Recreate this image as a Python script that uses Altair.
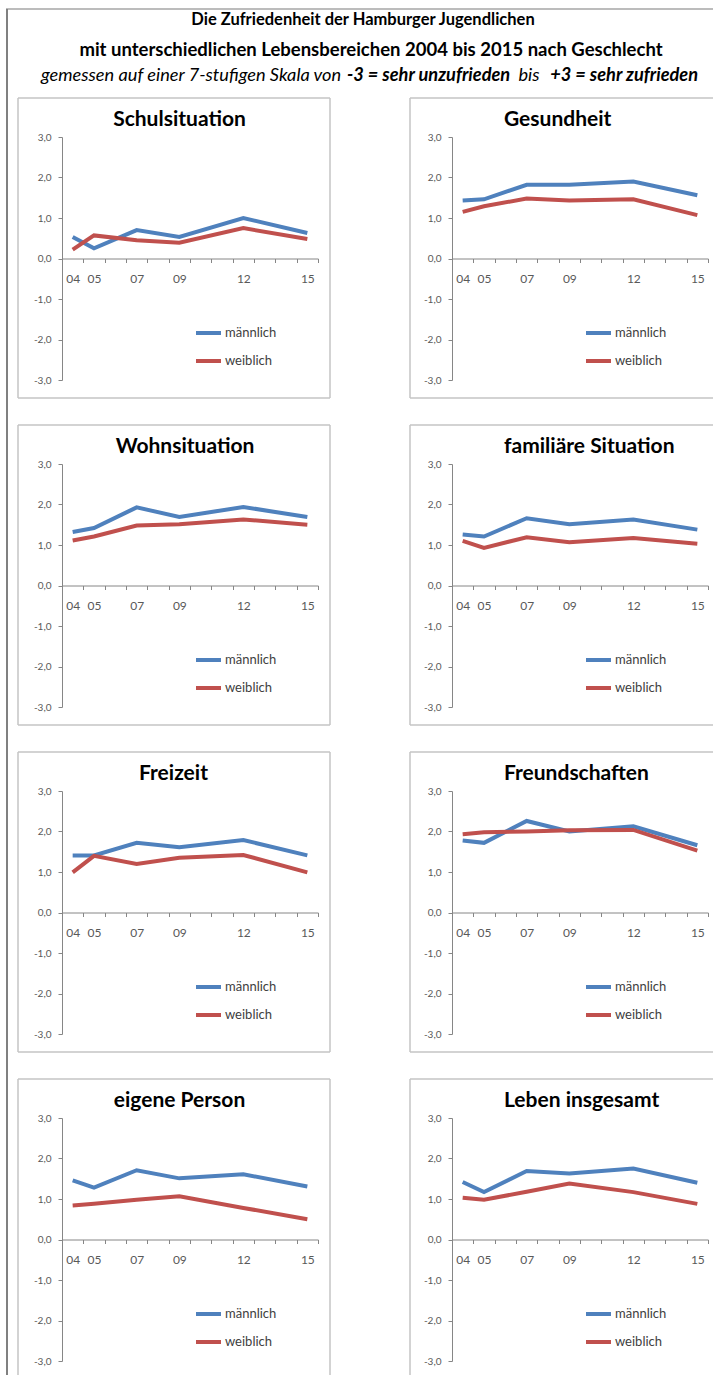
import altair as alt
import pandas as pd

# One band per year on the x axis; values exist only for the survey years
JAHRE = ["04", "05", "06", "07", "08", "09", "10", "11", "12", "13", "14", "15"]
ERHEBUNGSJAHRE = ["04", "05", "07", "09", "12", "15"]
GESCHLECHT = ["männlich", "weiblich"]
FARBEN = ["#4F81BD", "#C0504D"]
Y_TICKS = [-3, -2, -1, 0, 1, 2, 3]

# Mean satisfaction per survey year (scale -3 ... +3)
schule_m = [0.53, 0.25, 0.70, 0.53, 1.00, 0.63]
schule_w = [0.22, 0.57, 0.45, 0.39, 0.75, 0.48]
gesundheit_m = [1.43, 1.46, 1.82, 1.82, 1.90, 1.56]
gesundheit_w = [1.15, 1.29, 1.48, 1.43, 1.46, 1.07]
wohnen_m = [1.32, 1.42, 1.93, 1.69, 1.94, 1.69]
wohnen_w = [1.11, 1.21, 1.48, 1.51, 1.63, 1.50]
familie_m = [1.26, 1.21, 1.66, 1.51, 1.63, 1.38]
familie_w = [1.10, 0.93, 1.19, 1.07, 1.17, 1.03]
freizeit_m = [1.41, 1.41, 1.72, 1.61, 1.79, 1.41]
freizeit_w = [0.99, 1.40, 1.20, 1.35, 1.42, 0.99]
freunde_m = [1.78, 1.72, 2.26, 2.00, 2.13, 1.66]
freunde_w = [1.93, 1.98, 2.00, 2.03, 2.04, 1.53]
person_m = [1.46, 1.28, 1.71, 1.51, 1.61, 1.31]
person_w = [0.84, 0.88, 0.98, 1.07, 0.78, 0.50]
leben_m = [1.42, 1.17, 1.69, 1.63, 1.75, 1.40]
leben_w = [1.03, 0.98, 1.18, 1.38, 1.17, 0.88]

BEREICHE = [
    ("Schulsituation", schule_m, schule_w),
    ("Gesundheit", gesundheit_m, gesundheit_w),
    ("Wohnsituation", wohnen_m, wohnen_w),
    ("familiäre Situation", familie_m, familie_w),
    ("Freizeit", freizeit_m, freizeit_w),
    ("Freundschaften", freunde_m, freunde_w),
    ("eigene Person", person_m, person_w),
    ("Leben insgesamt", leben_m, leben_w),
]

# Layout of a single panel (plot area in px)
W, H = 256, 243
FONT = "Lato"
GRAU_ACHSE = "#868686"
GRAU_TEXT = "#595959"
RAHMEN = "#c4c4c4"
TITEL_X_LINKS = [117.5, 123, 111.5, 117.5]
TITEL_X_RECHTS = 52

EINS = pd.DataFrame({"k": [0]})


def strich(x1, x2, y1, y2, farbe=RAHMEN, breite=1.5):
    return alt.Chart(EINS).mark_rule(color=farbe, strokeWidth=breite).encode(
        x=alt.value(x1), x2=alt.value(x2), y=alt.value(y1), y2=alt.value(y2)
    )


def text(inhalt, x, y, size, weight="normal", style="normal", align="center"):
    return alt.Chart(EINS).mark_text(
        text=inhalt, font=FONT, fontSize=size, fontWeight=weight, fontStyle=style,
        align=align, baseline="middle", color="#000000",
    ).encode(x=alt.value(x), y=alt.value(y))


label_liste = ",".join("'%s'" % j for j in ERHEBUNGSJAHRE)


def panel(nr, titel, werte_m, werte_w):
    zeile, spalte = divmod(nr, 2)
    n = len(ERHEBUNGSJAHRE)
    df = pd.DataFrame({
        "Jahr": ERHEBUNGSJAHRE * 2,
        "Wert": werte_m + werte_w,
        "Geschlecht": [GESCHLECHT[0]] * n + [GESCHLECHT[1]] * n,
    })

    x = alt.X(
        "Jahr:O", title=None,
        scale=alt.Scale(type="band", domain=JAHRE, paddingInner=0, paddingOuter=0),
        axis=alt.Axis(
            orient="bottom", offset=-H / 2, tickBand="extent", grid=False,
            labelExpr="indexof([%s], datum.value) >= 0 ? datum.value : ''" % label_liste,
            labelAngle=0, labelFont=FONT, labelFontSize=12, labelColor=GRAU_TEXT,
            labelPadding=11, tickSize=4, tickColor=GRAU_ACHSE, domainColor=GRAU_ACHSE,
            labelFlush=False, labelOverlap=False,
        ),
    )
    y = alt.Y(
        "Wert:Q", title=None,
        scale=alt.Scale(domain=[-3, 3], nice=False, zero=False),
        axis=alt.Axis(
            values=Y_TICKS, grid=False,
            labelExpr="(datum.value < 0 ? '-' : '') + replace(format(abs(datum.value), '.1f'), '.', ',')",
            labelFont=FONT, labelFontSize=10, labelColor=GRAU_TEXT, labelPadding=7,
            tickSize=4, tickColor=GRAU_ACHSE, domainColor=GRAU_ACHSE,
        ),
    )
    farbe = alt.Color(
        "Geschlecht:N",
        scale=alt.Scale(domain=GESCHLECHT, range=FARBEN),
        legend=alt.Legend(
            title=None, orient="none", legendX=132, legendY=181.5, direction="vertical",
            symbolType="stroke", symbolSize=625, symbolStrokeWidth=4,
            labelFont=FONT, labelFontSize=13, labelColor="#404040", labelOffset=2,
            rowPadding=5, padding=0,
        ),
    )
    linien = alt.Chart(df).mark_line(strokeWidth=4).encode(x=x, y=y, color=farbe)

    # Box around the panel
    links = -44 if spalte == 0 else -42
    rechts = 268 if spalte == 0 else 261
    oben = -39
    unten = 261 if zeile < 3 else 257
    teile = [strich(links, rechts, oben, oben), strich(links, links, oben, unten)]
    if spalte == 0:
        teile.append(strich(rechts, rechts, oben, unten))
    if zeile < 3:
        teile.append(strich(links, rechts, unten, unten))

    if spalte == 0:
        teile.append(text(titel, TITEL_X_LINKS[zeile], -17, 21, weight="bold"))
    else:
        teile.append(text(titel, TITEL_X_RECHTS, -17, 21, weight="bold", align="left"))

    if nr == 0:
        # Page frame and headline
        teile.append(strich(-56, 651, -128, -128, farbe="#a6a6a6", breite=1.5))
        teile.append(strich(-55, -55, -128, 1238, farbe="#808080", breite=2))
        teile.append(text("Die Zufriedenheit der Hamburger Jugendlichen", 301, -117, 16.5, weight="bold"))
        teile.append(text("mit unterschiedlichen Lebensbereichen 2004 bis 2015 nach Geschlecht", 309, -87, 18.5, weight="bold"))
        teile.append(text("gemessen auf einer 7-stufigen Skala von", -21, -61, 18.2, style="italic", align="left"))
        teile.append(text("-3 = sehr unzufrieden", 285, -61, 18.2, weight="bold", style="italic", align="left"))
        teile.append(text("bis", 467, -61, 18.2, style="italic", align="center"))
        teile.append(text("+3 = sehr zufrieden", 636, -61, 18.2, weight="bold", style="italic", align="right"))

    return alt.layer(*teile, linien).properties(width=W, height=H)


panels = [panel(i, t, m, w) for i, (t, m, w) in enumerate(BEREICHE)]

chart = (
    alt.concat(*panels, columns=2, spacing={"row": 84, "column": 134}, bounds="flush")
    .resolve_scale(color="independent")
    .properties(padding={"left": 5, "top": 8, "right": 0, "bottom": 0}, background="white")
    .configure_view(stroke=None)
)

chart.save("out.html", embed_options={"renderer": "svg", "actions": False})
